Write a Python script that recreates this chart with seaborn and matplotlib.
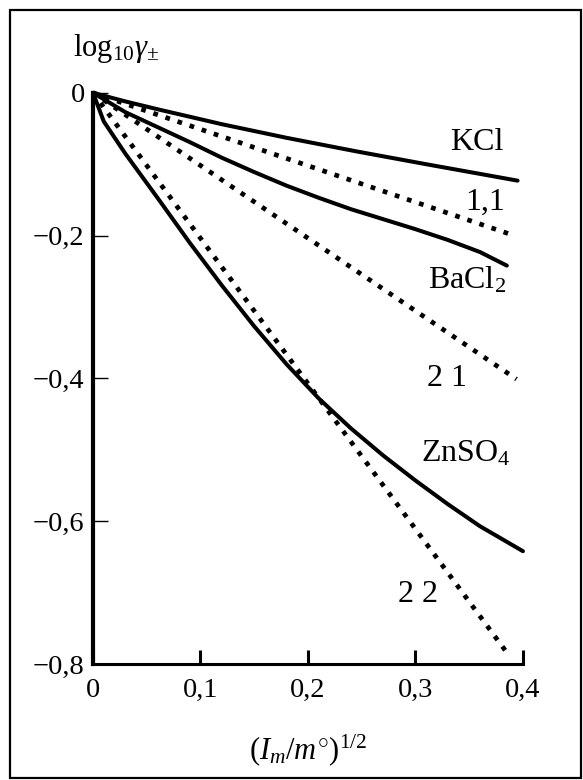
import numpy as np
import pandas as pd
import seaborn as sns
import matplotlib.pyplot as plt
from matplotlib.patches import Rectangle

# measured curves (solid)
kcl_x = [0, 0.03, 0.06, 0.12, 0.18, 0.245, 0.31, 0.395]
kcl_y = [0, -0.012, -0.023, -0.044, -0.063, -0.082, -0.100, -0.123]

bacl2_x = [0, 0.03, 0.06, 0.09, 0.12, 0.15, 0.18, 0.21, 0.24, 0.27, 0.30, 0.33, 0.36, 0.385]
bacl2_y = [0, -0.027, -0.048, -0.069, -0.091, -0.111, -0.130, -0.147, -0.163, -0.177, -0.191, -0.206, -0.223, -0.242]

znso4_x = [0, 0.01, 0.03, 0.06, 0.09, 0.12, 0.15, 0.18, 0.21, 0.24, 0.27, 0.30, 0.33, 0.36, 0.40]
znso4_y = [0, -0.04, -0.085, -0.147, -0.21, -0.27, -0.327, -0.38, -0.428, -0.47, -0.508, -0.543, -0.576, -0.607, -0.642]

# limiting law lines (dotted)
lim11_x = [0, 0.39]
lim11_y = [0, -0.199]
lim21_x = [0, 0.394]
lim21_y = [0, -0.401]
lim22_x = [0, 0.387]
lim22_y = [0, -0.788]

x_ticks = [0, 0.1, 0.2, 0.3, 0.4]
x_tick_labels = ["0", "0,1", "0,2", "0,3", "0,4"]
y_ticks = [0, -0.2, -0.4, -0.6, -0.8]
y_tick_labels = ["0", "\u22120,2", "\u22120,4", "\u22120,6", "\u22120,8"]

sns.set_style("ticks")
plt.rcParams["font.family"] = ["Liberation Serif", "DejaVu Serif"]
plt.rcParams["mathtext.fontset"] = "custom"
plt.rcParams["mathtext.rm"] = "Liberation Serif"
plt.rcParams["mathtext.it"] = "Liberation Serif:italic"

fig = plt.figure(figsize=(5.83, 7.8), dpi=100)
ax = fig.add_axes([0.1595, 0.1487, 0.7375, 0.7323])

solid = dict(color="black", lw=2.9, clip_on=False, estimator=None, sort=False, errorbar=None)
dotted = dict(color="black", lw=3.4, ls=(0, (1, 1.7)), dash_capstyle="butt",
              clip_on=False, estimator=None, sort=False, errorbar=None)

sns.lineplot(x=kcl_x, y=kcl_y, ax=ax, **solid)
sns.lineplot(x=bacl2_x, y=bacl2_y, ax=ax, **solid)
sns.lineplot(x=znso4_x, y=znso4_y, ax=ax, **solid)
sns.lineplot(x=lim11_x, y=lim11_y, ax=ax, **dotted)
sns.lineplot(x=lim21_x, y=lim21_y, ax=ax, **dotted)
sns.lineplot(x=lim22_x, y=lim22_y, ax=ax, **dotted)

ax.set_xlim(0, 0.4)
ax.set_ylim(-0.8, 0)
ax.set_xticks(x_ticks)
ax.set_xticklabels(x_tick_labels)
ax.set_yticks(y_ticks)
ax.set_yticklabels(y_tick_labels)
ax.tick_params(axis="x", direction="in", length=10, width=2.2, pad=10, labelsize=20.5,
               color="black", labelcolor="black")
ax.tick_params(axis="y", direction="in", length=11, width=1.0, pad=6, labelsize=20.5,
               color="black", labelcolor="black")
sns.despine(ax=ax)
ax.spines["left"].set_linewidth(3.0)
ax.spines["bottom"].set_linewidth(2.2)
ax.spines["left"].set_color("black")
ax.spines["bottom"].set_color("black")
ax.set_xlabel("")
ax.set_ylabel("")

# curve labels
lab = dict(ha="center", va="center", fontsize=23, color="black")
ax.text(0.357, -0.070, "KCl", **lab)
ax.text(0.365, -0.153, "1,1", **lab)
ax.text(0.348, -0.262, "BaCl$_2$", **lab)
ax.text(0.329, -0.400, "2 1", **lab)
ax.text(0.347, -0.506, "ZnSO$_4$", **lab)
ax.text(0.302, -0.703, "2 2", **lab)

fig.text(0.2, 0.938, r"log$_{10}$$\gamma_{\pm}$", ha="center", va="center", fontsize=22, color="black")
fig.text(0.528, 0.038, r"$(I_m/m^{\circ})^{1/2}$", ha="center", va="center", fontsize=22, color="black")

# frame round the whole figure
fig.add_artist(Rectangle((9.5 / 583, 2 / 780), 571 / 583, 768 / 780,
                         transform=fig.transFigure, fill=False, lw=1.6, ec="black"))

plt.savefig("out.png", dpi=100)
